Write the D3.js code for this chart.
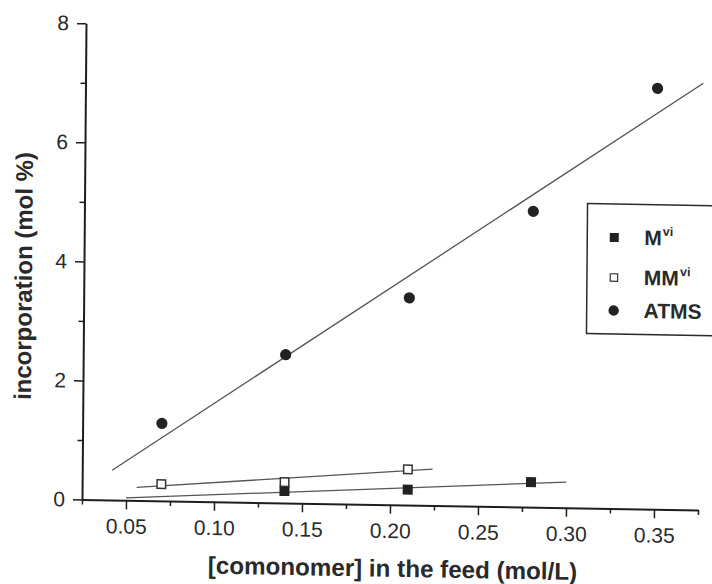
<!DOCTYPE html>
<html>
<head>
<meta charset="utf-8">
<script src="https://cdn.jsdelivr.net/npm/d3@7"></script>
<style>
  html, body { margin: 0; padding: 0; background: #fff; }
  svg { display: block; }
  text { font-family: "Liberation Sans", Arial, Helvetica, sans-serif; fill: #2a2a2a; }
</style>
</head>
<body>
<svg id="chart" width="712" height="584"></svg>
<script>
// ---------- data ----------
const xTickValues = [0.05, 0.10, 0.15, 0.20, 0.25, 0.30, 0.35];
const xMinorTicks = [0.025, 0.075, 0.125, 0.175, 0.225, 0.275, 0.325, 0.375];
const yTickValues = [0, 2, 4, 6, 8];
const yMinorTicks = [1, 3, 5, 7];

const mX    = [0.14, 0.21, 0.28];
const mY    = [0.20, 0.26, 0.42];
const mmX   = [0.07, 0.14, 0.21];
const mmY   = [0.28, 0.35, 0.60];
const atmsX = [0.07, 0.14, 0.21, 0.28, 0.35];
const atmsY = [1.30, 2.49, 3.48, 4.97, 7.07];

// fitted straight lines (end points)
const fitMX    = [0.050, 0.300];
const fitMY    = [0.04, 0.43];
const fitMMX   = [0.056, 0.224];
const fitMMY   = [0.22, 0.61];
const fitAtmsX = [0.042, 0.376];
const fitAtmsY = [0.50, 7.17];

const legendLabels = [["M", "vi"], ["MM", "vi"], ["ATMS", ""]];

// ---------- layout ----------
const ox = 82, oy = 499.5;
const svg = d3.select("#chart");
const x = d3.scaleLinear().domain([0.025, 0.375]).range([ox, ox + 616]);
const y = d3.scaleLinear().domain([0, 8]).range([oy, 23.3]);

// the scanned figure is slightly skewed
const g = svg.append("g")
  .attr("transform", `translate(${ox},${oy}) matrix(1,0.017,-0.0084,1,0,0) translate(${-ox},${-oy})`);

const axisColor = "#1e1e1e";

// x axis
g.append("g").attr("transform", `translate(0,${oy})`)
  .call(d3.axisBottom(x).tickValues(xTickValues).tickSize(9).tickSizeOuter(0)
        .tickPadding(9.5).tickFormat(d3.format(".2f")));
g.append("g").attr("transform", `translate(0,${oy})`)
  .call(d3.axisBottom(x).tickValues(xMinorTicks).tickSize(5).tickSizeOuter(0).tickFormat(""))
  .select(".domain").remove();

// y axis
g.append("g").attr("transform", `translate(${ox},0)`)
  .call(d3.axisLeft(y).tickValues(yTickValues).tickSize(9).tickSizeOuter(0)
        .tickPadding(8).tickFormat(d3.format("d")));
g.append("g").attr("transform", `translate(${ox},0)`)
  .call(d3.axisLeft(y).tickValues(yMinorTicks).tickSize(5).tickSizeOuter(0).tickFormat(""))
  .select(".domain").remove();

g.selectAll(".domain").attr("stroke", axisColor).attr("stroke-width", 2);
g.selectAll(".tick line").attr("stroke", axisColor).attr("stroke-width", 1.5);
g.selectAll(".tick text").attr("font-size", 21).attr("fill", "#333")
  .attr("font-family", "'Liberation Sans', Arial, sans-serif");

// axis titles
g.append("text")
  .attr("x", 393).attr("y", 571.5)
  .attr("text-anchor", "middle")
  .attr("font-size", 24.2).attr("font-weight", "bold")
  .text("[comonomer] in the feed (mol/L)");
g.append("text")
  .attr("transform", "translate(30,277) rotate(-90)")
  .attr("text-anchor", "middle")
  .attr("font-size", 24).attr("font-weight", "bold")
  .text("incorporation (mol %)");

// fit lines
const fits = [[fitMX, fitMY], [fitMMX, fitMMY], [fitAtmsX, fitAtmsY]];
const lineGen = d3.line().x(d => x(d[0])).y(d => y(d[1]));
g.selectAll("path.fit").data(fits).join("path")
  .attr("class", "fit")
  .attr("d", f => lineGen(f[0].map((v, i) => [v, f[1][i]])))
  .attr("fill", "none").attr("stroke", "#555").attr("stroke-width", 1.3);

// markers
const msz = 10;
g.selectAll("rect.m").data(mX.map((v, i) => [v, mY[i]])).join("rect")
  .attr("class", "m")
  .attr("x", d => x(d[0]) - msz / 2).attr("y", d => y(d[1]) - msz / 2)
  .attr("width", msz).attr("height", msz).attr("fill", "#222");
g.selectAll("rect.mm").data(mmX.map((v, i) => [v, mmY[i]])).join("rect")
  .attr("class", "mm")
  .attr("x", d => x(d[0]) - (msz - 1.5) / 2).attr("y", d => y(d[1]) - (msz - 1.5) / 2)
  .attr("width", msz - 1.5).attr("height", msz - 1.5)
  .attr("fill", "#fff").attr("stroke", "#333").attr("stroke-width", 1.5);
g.selectAll("circle.atms").data(atmsX.map((v, i) => [v, atmsY[i]])).join("circle")
  .attr("class", "atms")
  .attr("cx", d => x(d[0])).attr("cy", d => y(d[1])).attr("r", 5.6).attr("fill", "#222");

// legend
const lg = g.append("g");
lg.append("rect").attr("x", 585).attr("y", 195).attr("width", 150).attr("height", 130)
  .attr("fill", "#fff").attr("stroke", "#2a2a2a").attr("stroke-width", 1.5);
const rowY = [228.5, 268.5, 301.5];
const mkX = 612;
lg.append("rect").attr("x", mkX - 4.5).attr("y", rowY[0] - 4.5).attr("width", 9).attr("height", 9).attr("fill", "#222");
lg.append("rect").attr("x", mkX - 3.7).attr("y", rowY[1] - 3.7).attr("width", 7.4).attr("height", 7.4)
  .attr("fill", "#fff").attr("stroke", "#333").attr("stroke-width", 1.2);
lg.append("circle").attr("cx", mkX).attr("cy", rowY[2]).attr("r", 5.2).attr("fill", "#222");
legendLabels.forEach((lab, i) => {
  const t = lg.append("text").attr("x", 642).attr("y", rowY[i] + 7)
    .attr("font-size", 21).attr("font-weight", "bold");
  t.append("tspan").text(lab[0]);
  if (lab[1]) t.append("tspan").attr("font-size", 12.5).attr("dy", -9.5).attr("dx", 1).text(lab[1]);
});
</script>
</body>
</html>
